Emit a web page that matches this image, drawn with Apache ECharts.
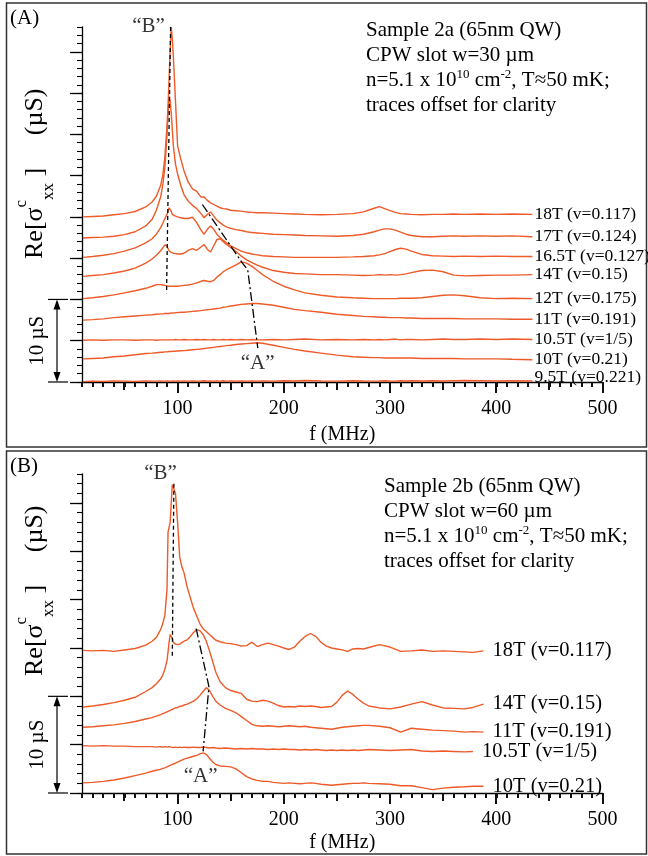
<!DOCTYPE html>
<html><head><meta charset="utf-8">
<script src="https://cdn.jsdelivr.net/npm/echarts@6/dist/echarts.min.js"></script>
<style>html,body{margin:0;padding:0;background:#fff}#c{width:648px;height:856px}</style>
</head><body><div id="c"></div>
<script>
// ---------------- data: panel A (Sample 2a) ----------------
const freqA = [11,20,30,40,50,60,70,76,80,84,
  86,88,90,91,92,93,94,95,96,98,
  100,103,106,110,114,118,122,125,128,131,
  134,137,140,143,146,150,155,160,165,170,
  175,180,190,200,210,220,235,250,265,275,
  285,290,295,300,305,310,315,320,330,340,
  350,360,370,385,400,415,434];
const a18 = [20.0,20.05,20.1,20.25,20.4,20.65,21.2,21.8,22.5,23.8,
  25.0,27.2,31.0,33.5,36.8,40.3,43.0,41.6,39.4,34.0,
  28.6,27.0,25.6,24.2,23.4,23.1,22.4,22.4,22.0,21.7,
  21.5,21.3,21.1,21.0,20.95,20.8,20.75,20.7,20.6,20.55,
  20.5,20.5,20.45,20.4,20.35,20.3,20.25,20.3,20.4,20.6,
  21.05,21.25,21.0,20.75,20.55,20.4,20.35,20.3,20.25,20.3,
  20.3,20.35,20.3,20.35,20.3,20.35,20.3];
const a17 = [17.45,17.5,17.55,17.65,17.85,18.2,18.9,19.7,20.8,22.4,
  23.8,26.0,29.8,32.5,34.6,34.0,32.6,30.6,28.6,26.4,
  25.2,23.8,22.7,21.9,21.4,21.0,20.4,19.9,20.3,20.6,
  20.1,19.6,19.3,19.0,18.8,18.6,18.45,18.35,18.2,18.1,
  18.05,18.0,17.9,17.85,17.8,17.75,17.7,17.65,17.75,17.9,
  18.2,18.4,18.55,18.55,18.4,18.15,17.9,17.75,17.6,17.6,
  17.65,17.7,17.65,17.7,17.65,17.7,17.6];
const a165 = [15.1,15.2,15.35,15.55,15.85,16.25,16.85,17.35,17.9,18.7,
  19.2,19.8,20.3,20.7,21.1,21.3,20.7,20.3,20.2,20.1,
  20.0,19.9,19.8,19.8,19.95,19.3,18.4,17.9,18.5,18.9,
  18.5,17.9,17.5,17.15,16.85,16.5,16.15,15.85,15.65,15.5,
  15.4,15.3,15.2,15.15,15.1,15.1,15.1,15.1,15.15,15.2,
  15.3,15.4,15.55,15.8,16.05,16.2,16.1,15.85,15.45,15.3,
  15.25,15.2,15.25,15.2,15.25,15.2,15.2];
const a14 = [12.8,12.9,13.0,13.2,13.45,13.8,14.4,14.9,15.35,15.9,
  16.25,16.6,16.45,16.15,15.9,15.8,15.7,15.65,15.6,15.55,
  15.5,15.5,15.6,15.95,16.15,15.95,16.35,16.65,16.05,15.75,
  16.5,17.25,17.35,17.0,16.65,16.3,15.8,15.25,14.8,14.45,
  14.15,13.9,13.5,13.3,13.15,13.1,13.0,13.0,12.95,12.9,
  12.95,13.0,12.95,13.0,12.95,13.0,13.1,13.25,13.5,13.55,
  13.35,12.95,12.85,12.9,12.95,12.95,13.0];
const a12 = [10.1,10.2,10.35,10.55,10.8,11.05,11.35,11.6,11.8,11.8,
  11.75,11.7,11.65,11.6,11.6,11.6,11.6,11.55,11.6,11.6,
  11.6,11.65,11.7,11.75,11.85,12.0,12.2,12.3,12.2,12.15,
  12.3,12.7,13.0,13.35,13.6,13.85,14.2,14.55,14.4,14.0,
  13.5,13.0,12.2,11.6,11.15,10.8,10.5,10.3,10.2,10.15,
  10.1,10.1,10.1,10.1,10.1,10.15,10.15,10.15,10.2,10.35,
  10.5,10.55,10.45,10.2,10.1,10.15,10.1];
const a11 = [7.5,7.55,7.65,7.8,7.9,8.0,8.1,8.15,8.2,8.25,
  8.25,8.3,8.3,8.3,8.3,8.35,8.35,8.35,8.35,8.4,
  8.4,8.45,8.45,8.5,8.55,8.6,8.65,8.7,8.75,8.8,
  8.85,8.9,8.95,9.05,9.1,9.2,9.3,9.4,9.45,9.5,
  9.5,9.45,9.3,9.05,8.8,8.65,8.45,8.2,8.05,7.95,
  7.9,7.85,7.85,7.8,7.8,7.8,7.75,7.75,7.7,7.7,
  7.7,7.7,7.65,7.65,7.65,7.6,7.6];
const a105 = [5.05,5.1,5.05,5.1,5.1,5.05,5.1,5.1,5.05,5.1,
  5.1,5.1,5.1,5.1,5.1,5.1,5.1,5.1,5.1,5.15,
  5.1,5.1,5.15,5.1,5.1,5.15,5.1,5.15,5.1,5.1,
  5.15,5.1,5.1,5.15,5.1,5.15,5.1,5.15,5.1,5.15,
  5.1,5.1,5.15,5.1,5.15,5.2,5.1,5.15,5.1,5.15,
  5.1,5.15,5.1,5.15,5.2,5.1,5.15,5.15,5.1,5.15,
  5.2,5.15,5.15,5.2,5.15,5.2,5.15];
const a10 = [2.8,2.85,2.9,3.05,3.15,3.3,3.45,3.5,3.55,3.6,
  3.6,3.65,3.65,3.65,3.7,3.7,3.7,3.7,3.72,3.73,
  3.75,3.78,3.8,3.85,3.9,3.95,4.0,4.05,4.1,4.15,
  4.2,4.25,4.3,4.35,4.4,4.45,4.55,4.6,4.65,4.7,
  4.75,4.7,4.45,4.2,3.95,3.75,3.5,3.25,3.05,3.0,
  2.95,2.95,2.9,2.9,2.9,2.9,2.9,2.9,2.85,2.85,
  2.85,2.85,2.8,2.8,2.8,2.75,2.7];
const a95 = [0.05,0.1,0.08,0.12,0.1,0.08,0.12,0.1,0.1,0.12,
  0.1,0.1,0.12,0.1,0.1,0.12,0.1,0.1,0.12,0.1,
  0.12,0.1,0.12,0.1,0.12,0.1,0.12,0.15,0.1,0.12,
  0.1,0.12,0.1,0.15,0.1,0.12,0.1,0.12,0.1,0.12,
  0.1,0.12,0.1,0.15,0.12,0.18,0.12,0.1,0.15,0.12,
  0.1,0.12,0.15,0.12,0.1,0.15,0.12,0.15,0.12,0.15,
  0.12,0.15,0.18,0.15,0.12,0.15,0.12];
const labelsA = ['18T (v=0.117)','17T (v=0.124)','16.5T (v=0.127)','14T (v=0.15)','12T (v=0.175)','11T (v=0.191)','10.5T (v=1/5)','10T (v=0.21)','9.5T (v=0.221)'];
const guideBA = [[93.4,43.0],[89.6,10.75]];
const guideAA = [[123.3,21.5],[160.5,14.5],[166,13.6],[175.5,4.1]];

// ---------------- data: panel B (Sample 2b) ----------------
const freqB = [11,20,30,40,50,60,70,76,80,84,
  86,88,90,91,92,93,94,95,96,98,
  100,102,104,106,109,112,115,118,121,124,
  127,130,133,136,140,145,150,155,160,165,
  170,175,180,185,190,195,200,205,210,215,
  220,225,230,235,240,245,250,255,260,265,
  270,275,280,290,300,310,320,330,340,350,
  360,370,378,388];
const b18 = [14.75,14.7,14.75,14.65,14.8,14.95,15.3,15.7,16.1,16.9,
  17.5,18.4,21.0,27.0,27.5,28.0,30.0,31.9,32.1,31.0,
  28.0,24.4,23.4,22.8,21.3,20.2,19.1,18.3,17.5,17.0,
  16.7,16.4,16.1,15.8,15.65,15.5,15.45,15.35,15.2,15.25,
  15.6,15.15,15.35,15.5,15.35,15.2,15.0,14.85,15.1,15.7,
  16.2,16.5,16.2,15.6,15.2,15.0,14.9,14.8,14.65,14.9,
  14.95,14.9,15.05,15.35,15.1,14.65,14.7,14.8,14.65,14.7,
  14.65,14.6,14.55,14.7];
const b14 = [8.9,9.0,9.15,9.35,9.6,9.9,10.5,10.9,11.3,11.8,
  12.2,12.8,13.7,14.6,15.6,16.4,16.6,16.0,15.6,15.4,
  15.35,15.4,15.55,15.7,15.85,16.2,16.6,16.9,16.8,16.4,
  15.7,14.7,13.6,12.5,11.5,10.9,10.6,10.45,10.3,9.7,
  9.5,9.45,9.6,9.5,9.3,9.05,8.9,8.95,8.9,9.0,
  8.95,9.0,8.95,8.85,8.9,8.95,9.4,10.1,10.55,10.2,
  9.7,9.3,9.0,8.8,8.7,8.9,9.2,9.45,9.1,8.8,
  8.75,8.7,8.85,9.2];
const b11 = [6.8,6.85,6.95,7.05,7.2,7.4,7.65,7.8,7.95,8.1,
  8.2,8.3,8.4,8.45,8.5,8.55,8.6,8.65,8.7,8.8,
  8.85,8.95,9.0,9.1,9.2,9.35,9.5,9.75,10.1,10.5,
  10.9,10.6,10.0,9.5,9.1,8.75,8.55,8.3,7.9,7.5,
  7.1,6.95,6.9,6.95,6.9,6.85,6.9,6.95,6.9,6.85,
  6.9,6.8,6.75,6.7,6.65,6.6,6.7,6.8,6.85,6.9,
  6.95,7.0,7.0,6.9,6.75,6.3,6.7,6.6,6.5,6.45,
  6.4,6.3,6.35,6.3];
const b105 = [4.9,4.85,4.9,4.85,4.85,4.8,4.8,4.8,4.75,4.8,
  4.75,4.8,4.75,4.75,4.8,4.75,4.75,4.75,4.7,4.75,
  4.7,4.75,4.7,4.75,4.7,4.7,4.75,4.7,4.7,4.75,
  4.7,4.65,4.7,4.65,4.6,4.65,4.6,4.55,4.6,4.55,
  4.6,4.55,4.55,4.5,4.55,4.5,4.55,4.5,4.5,4.45,
  4.5,4.45,4.5,4.45,4.4,4.45,4.4,4.45,4.4,4.45,
  4.4,4.45,4.5,4.45,4.4,4.45,4.5,4.35,4.3,4.35,
  4.3,4.25,4.3,null];
const b10 = [1.05,1.1,1.2,1.35,1.55,1.8,2.05,2.25,2.35,2.45,
  2.55,2.6,2.7,2.75,2.8,2.85,2.9,2.95,3.0,3.1,
  3.2,3.3,3.4,3.5,3.6,3.7,3.8,3.9,4.05,4.15,
  4.0,3.6,3.2,2.95,2.8,2.75,2.7,2.5,2.1,1.7,
  1.45,1.3,1.2,1.2,1.1,1.05,1.0,1.05,1.0,0.95,
  1.0,1.05,1.0,0.9,0.85,0.8,0.85,0.9,0.95,1.0,
  1.0,1.05,1.0,0.95,0.9,0.75,0.75,0.55,0.35,0.5,
  0.6,0.65,0.7,0.7];
const labelsB = ['18T (v=0.117)','14T (v=0.15)','11T (v=0.191)','10.5T (v=1/5)','10T (v=0.21)'];
const guideBB = [[96.5,32.0],[95.0,14.1]];
const guideAB = [[117.5,17.0],[129.5,11.0],[124.0,4.3]];

// ---------------- ticks ----------------
const xMajor = [100,200,300,400,500];
const xMid = [50,150,250,350,450];
const xMinorStep = 10;
const yMajorStep = 5;

// ---------------- build ----------------
const FONT = '"Liberation Serif","Times New Roman",serif';
const RED = '#EE5A28';
function range(a, b, s) { const r = []; for (let v = a; v <= b + 1e-9; v += s) r.push(v); return r; }
function pairs(fs, vs) { return fs.map((f, i) => [f, vs[i]]); }

const panels = [
  { top: 27, height: 355, ymax: 43, freq: freqA, traces: [a18,a17,a165,a14,a12,a11,a105,a10,a95],
    labels: labelsA, gB: guideBA, gA: guideAA, tagB: [72.6, 43.1], tagA: [175.4, 2.3], endDist: 2, endFont: 17.5, nameGap: 43 },
  { top: 474, height: 319, ymax: 33, freq: freqB, traces: [b18,b14,b11,b105,b10],
    labels: labelsB, gB: guideBB, gA: guideAB, tagB: [84, 33.1], tagA: [121.7, 1.7], endDist: 9, endFont: 20.5, nameGap: 40 }
];

const grid = [], xAxis = [], yAxis = [], series = [];
panels.forEach((p, g) => {
  grid.push({ left: 82, top: p.top, width: 520.5, height: p.height });
  const xb = xAxis.length, yb = yAxis.length;
  // min (10) is a multiple of the 10 MHz tick interval, so native ticks fall on 10, 20, ... 500
  xAxis.push({ type: 'value', gridIndex: g, min: 10, max: 500, interval: xMinorStep, position: 'bottom', splitLine: { show: false },
    axisLine: { show: true, onZero: false, lineStyle: { color: '#000', width: 1.3 } },
    axisTick: { show: true, length: 5, lineStyle: { color: '#111', width: 2 } },
    axisLabel: { show: true, customValues: xMajor, margin: 17, color: '#000', fontFamily: FONT, fontSize: 20 },
    name: 'f (MHz)', nameLocation: 'middle', nameGap: p.nameGap,
    nameTextStyle: { color: '#000', fontFamily: FONT, fontSize: 20 } });
  const yCommon = { type: 'value', gridIndex: g, min: 0, max: p.ymax, position: 'left', splitLine: { show: false }, axisLabel: { show: false } };
  yAxis.push(Object.assign({}, yCommon, {
    axisLine: { show: true, onZero: false, lineStyle: { color: '#000', width: 1.3 } },
    axisTick: { show: true, customValues: range(0, p.ymax, yMajorStep), length: 12, lineStyle: { color: '#000', width: 1.3 } }
  }));
  yAxis.push(Object.assign({}, yCommon, {
    axisLine: { show: false, onZero: false },
    axisTick: { show: true, customValues: range(0, p.ymax, 1), length: 5, lineStyle: { color: '#000', width: 1.1 } }
  }));
  p.xIdx = xb; p.yIdx = yb;
  p.traces.forEach((tr, i) => {
    series.push({
      type: 'line', xAxisIndex: xb, yAxisIndex: yb, data: pairs(p.freq, tr),
      showSymbol: false, symbol: 'none', clip: false, connectNulls: false,
      lineStyle: { color: RED, width: 1.4 }, itemStyle: { color: RED },
      endLabel: { show: true, formatter: p.labels[i], distance: p.endDist, color: '#000', fontFamily: FONT, fontSize: p.endFont,
        offset: (g === 0 && i === p.traces.length - 1) ? [0, -4] : [0, 0] },
      emphasis: { disabled: true }, silent: true, z: 2
    });
  });
  series.push({ type: 'line', xAxisIndex: xb, yAxisIndex: yb, data: p.gB, showSymbol: false, symbol: 'none', clip: false,
    lineStyle: { color: '#000', width: 1.3, type: [4, 3] }, silent: true, z: 3 });
  series.push({ type: 'line', xAxisIndex: xb, yAxisIndex: yb, data: p.gA, showSymbol: false, symbol: 'none', clip: false,
    lineStyle: { color: '#000', width: 1.3, type: [9, 3, 2, 3] }, silent: true, z: 3 });
  series.push({ type: 'scatter', xAxisIndex: xb, yAxisIndex: yb, symbolSize: 0, clip: false, silent: true, z: 4,
    data: [{ value: p.tagB, name: '“B”' }, { value: p.tagA, name: '“A”' }],
    label: { show: true, position: 'inside', formatter: '{b}', color: '#000', fontFamily: FONT, fontSize: 21 } });
});

const chart = echarts.init(document.getElementById('c'), null, { renderer: 'canvas' });
chart.setOption({ animation: false, backgroundColor: '#fff', grid, xAxis, yAxis, series });

// ---------------- decorations ----------------
const graphic = [];
const info = [
  { x: 366, y: 18, lines: ['Sample 2a (65nm QW)', 'CPW slot w=30 µm', 'n=5.1 x 10{sup|10} cm{sup|-2}, T≈50 mK;', 'traces offset for clarity'] },
  { x: 384, y: 474, lines: ['Sample 2b (65nm QW)', 'CPW slot w=60 µm', 'n=5.1 x 10{sup|10} cm{sup|-2}, T≈50 mK;', 'traces offset for clarity'] }
];
const boxes = [[6.5, 3, 640, 444], [6.5, 451, 640, 403]];
const tags = ['(A)', '(B)'];
panels.forEach((p, g) => {
  const b = boxes[g];
  graphic.push({ type: 'rect', shape: { x: b[0], y: b[1], width: b[2], height: b[3] }, style: { fill: 'none', stroke: '#333', lineWidth: 1.5 }, silent: true });
  graphic.push({ type: 'text', x: 10, y: b[1] + 15, style: { text: tags[g], fill: '#000', font: '21px ' + FONT, textAlign: 'left', textVerticalAlign: 'middle' } });
  const inf = info[g];
  graphic.push({ type: 'text', x: inf.x, y: inf.y, style: {
    text: inf.lines.join('\n'), fill: '#000', fontFamily: FONT, fontSize: 21, lineHeight: 25, textAlign: 'left', textVerticalAlign: 'top',
    rich: { sup: { fontFamily: FONT, fontSize: 13, lineHeight: 12, verticalAlign: 'top', fill: '#000' } } } });
  const y0 = chart.convertToPixel({ yAxisIndex: p.yIdx }, 0);
  const y10 = chart.convertToPixel({ yAxisIndex: p.yIdx }, 10);
  // longer ticks at 50-MHz and 100-MHz positions, placed through the grid's data-to-pixel mapping
  [[xMid, 8, 2], [xMajor, 11, 2]].forEach(function (def) {
    def[0].forEach(function (v) {
      const pt = chart.convertToPixel({ gridIndex: g }, [v, 0]);
      const px = Math.round(pt[0]);
      graphic.push({ type: 'line', shape: { x1: px, y1: y0, x2: px, y2: y0 + def[1] }, style: { stroke: '#111', lineWidth: def[2] } });
    });
  });
  const ax = 57;
  graphic.push({ type: 'line', shape: { x1: ax, y1: y10 + 8, x2: ax, y2: y0 - 8 }, style: { stroke: '#000', lineWidth: 1.2 } });
  graphic.push({ type: 'polygon', shape: { points: [[ax, y10], [ax - 3.5, y10 + 10], [ax + 3.5, y10 + 10]] }, style: { fill: '#000' } });
  graphic.push({ type: 'polygon', shape: { points: [[ax, y0], [ax - 3.5, y0 - 10], [ax + 3.5, y0 - 10]] }, style: { fill: '#000' } });
  graphic.push({ type: 'line', shape: { x1: 48, y1: y10, x2: 68, y2: y10 }, style: { stroke: '#000', lineWidth: 1.2 } });
  graphic.push({ type: 'line', shape: { x1: 48, y1: y0, x2: 68, y2: y0 }, style: { stroke: '#000', lineWidth: 1.2 } });
  graphic.push({ type: 'text', x: 37, y: (y0 + y10) / 2, rotation: Math.PI / 2, style: { text: '10 µS', fill: '#000', font: '21px ' + FONT, textAlign: 'center', textVerticalAlign: 'middle' } });
  const yt = g === 0 ? 259 : 676;
  graphic.push({ type: 'text', x: 35, y: yt, rotation: Math.PI / 2, style: {
    text: '{m|Re[σ}{sup|c}{sub|xx}{m| ]}{m|     (µS)}', textAlign: 'left', textVerticalAlign: 'middle',
    rich: {
      m: { fontFamily: FONT, fontSize: 26, lineHeight: 44, fill: '#000' },
      sup: { fontFamily: FONT, fontSize: 17, lineHeight: 17, verticalAlign: 'top', fill: '#000' },
      sub: { fontFamily: FONT, fontSize: 17, lineHeight: 17, verticalAlign: 'bottom', fill: '#000' }
    } } });
});
chart.setOption({ graphic });
</script></body></html>
